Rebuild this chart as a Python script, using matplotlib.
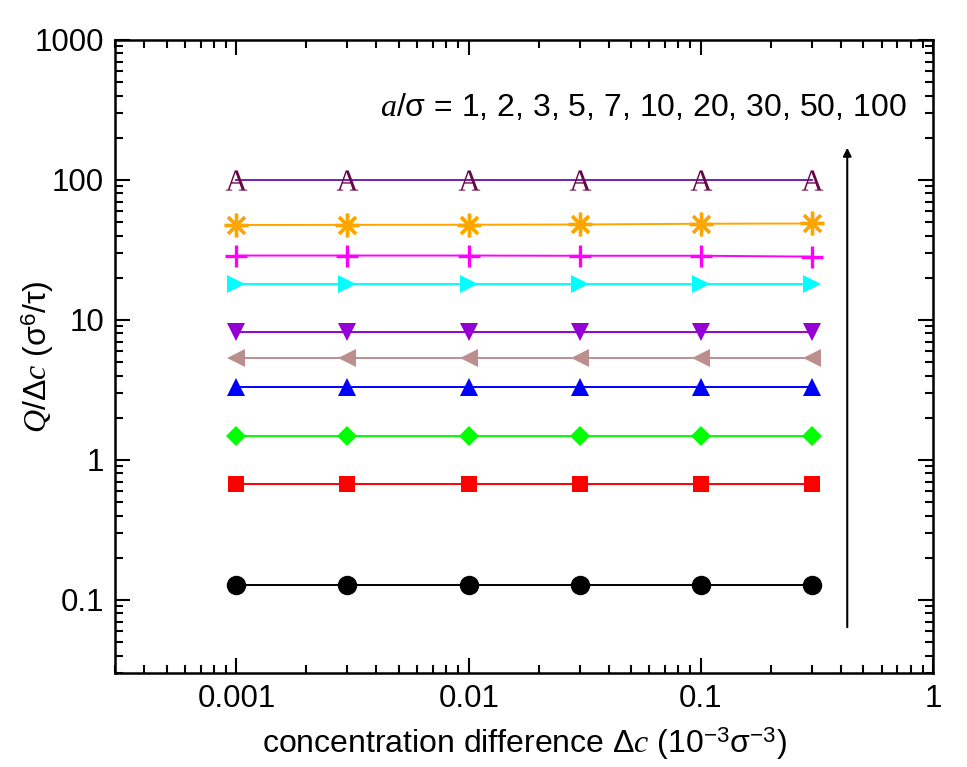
import numpy as np
import matplotlib
matplotlib.use("Agg")
import matplotlib.pyplot as plt
from matplotlib.ticker import LogLocator, FuncFormatter, NullFormatter
from matplotlib.textpath import TextPath
from matplotlib.font_manager import FontProperties
from matplotlib.path import Path

plt.rcParams["font.family"] = ["Liberation Sans", "DejaVu Sans"]
plt.rcParams["mathtext.fontset"] = "custom"
plt.rcParams["mathtext.rm"] = "Liberation Sans"
plt.rcParams["mathtext.it"] = "Liberation Serif:italic"
plt.rcParams["mathtext.bf"] = "Liberation Sans:bold"

# === Datos ===
dc = [0.001, 0.003, 0.01, 0.03, 0.1, 0.3]
a_sigma = [1, 2, 3, 5, 7, 10, 20, 30, 50, 100]
q_a1 = [0.128, 0.128, 0.128, 0.128, 0.128, 0.128]
q_a2 = [0.675, 0.675, 0.675, 0.675, 0.675, 0.675]
q_a3 = [1.48, 1.48, 1.48, 1.48, 1.48, 1.48]
q_a5 = [3.31, 3.31, 3.31, 3.31, 3.31, 3.31]
q_a7 = [5.3, 5.3, 5.3, 5.3, 5.3, 5.3]
q_a10 = [8.2, 8.2, 8.2, 8.2, 8.2, 8.2]
q_a20 = [17.9, 17.9, 17.9, 17.9, 17.9, 17.9]
q_a30 = [28.8, 28.8, 28.8, 28.7, 28.7, 28.3]
q_a50 = [47.6, 47.7, 47.8, 48.0, 48.6, 48.8]
q_a100 = [100, 100, 100, 100, 100, 100]

# marcador "A" con fuente serif
tp = TextPath((0, 0), "A", prop=FontProperties(family="Liberation Serif"))
ext = tp.get_extents()
a_marker = Path(tp.vertices - [(ext.x0 + ext.x1) / 2, (ext.y0 + ext.y1) / 2], tp.codes)

series = [
    (q_a1, "black", "o", 14, "black"),
    (q_a2, "red", "s", 11.5, "red"),
    (q_a3, "#00ff00", "D", 10, "#00ff00"),
    (q_a5, "blue", "^", 13.5, "blue"),
    (q_a7, "#bc8f8f", "<", 13.5, "#bc8f8f"),
    (q_a10, "#9400d3", "v", 13.5, "#9400d3"),
    (q_a20, "cyan", ">", 13.5, "cyan"),
    (q_a30, "magenta", "+", 16, "magenta"),
    (q_a50, "orange", (8, 2, 0), 17, "orange"),
    (q_a100, "#7221bc", a_marker, 16, "#670748"),
]

fig = plt.figure(figsize=(9.67, 7.67), dpi=100)
ax = fig.add_axes([0.119, 0.1225, 0.846, 0.8255])

for vals, lc, mk, ms, mc in series:
    if mk == "+" or isinstance(mk, tuple):
        ax.plot(dc, vals, color=lc, lw=1.4, marker=mk, ms=ms, mec=mc, mew=2.4)
    else:
        ax.plot(dc, vals, color=lc, lw=1.4, marker=mk, ms=ms, mfc=mc, mec=mc, mew=0)

ax.set_xscale("log")
ax.set_yscale("log")
ax.set_xlim(0.0003, 1)
ax.set_ylim(0.03, 1000)

fmt = FuncFormatter(lambda v, p: f"{v:g}")
ax.xaxis.set_major_locator(LogLocator(base=10, numticks=10))
ax.yaxis.set_major_locator(LogLocator(base=10, numticks=10))
ax.xaxis.set_minor_locator(LogLocator(base=10, subs=np.arange(2, 10), numticks=20))
ax.yaxis.set_minor_locator(LogLocator(base=10, subs=np.arange(2, 10), numticks=20))
ax.xaxis.set_major_formatter(fmt)
ax.yaxis.set_major_formatter(fmt)
ax.xaxis.set_minor_formatter(NullFormatter())
ax.yaxis.set_minor_formatter(NullFormatter())

ax.tick_params(which="both", direction="in", top=True, right=True, width=1.5, labelsize=22.5)
ax.tick_params(which="major", length=11, pad=8)
ax.tick_params(which="minor", length=6)
for s in ax.spines.values():
    s.set_linewidth(1.8)

ax.set_xlabel("concentration difference Δ$c$ (10$^{-3}$σ$^{-3}$)", fontsize=23)
ax.set_ylabel("$Q$/Δ$c$ (σ$^{6}$/τ)", fontsize=23)
ax.xaxis.set_label_coords(0.5, -0.083)
ax.yaxis.set_label_coords(-0.072, 0.5)

label = "$a$/σ = " + ", ".join(str(v) for v in a_sigma)
ax.text(0.968, 0.893, label, transform=ax.transAxes, ha="right", va="center", fontsize=23)
ax.annotate("", xy=(0.895, 0.834), xytext=(0.895, 0.068), xycoords="axes fraction",
            arrowprops=dict(arrowstyle="-|>", color="black", lw=1.5, mutation_scale=12))

plt.savefig("out.png", dpi=100)
plt.close()
